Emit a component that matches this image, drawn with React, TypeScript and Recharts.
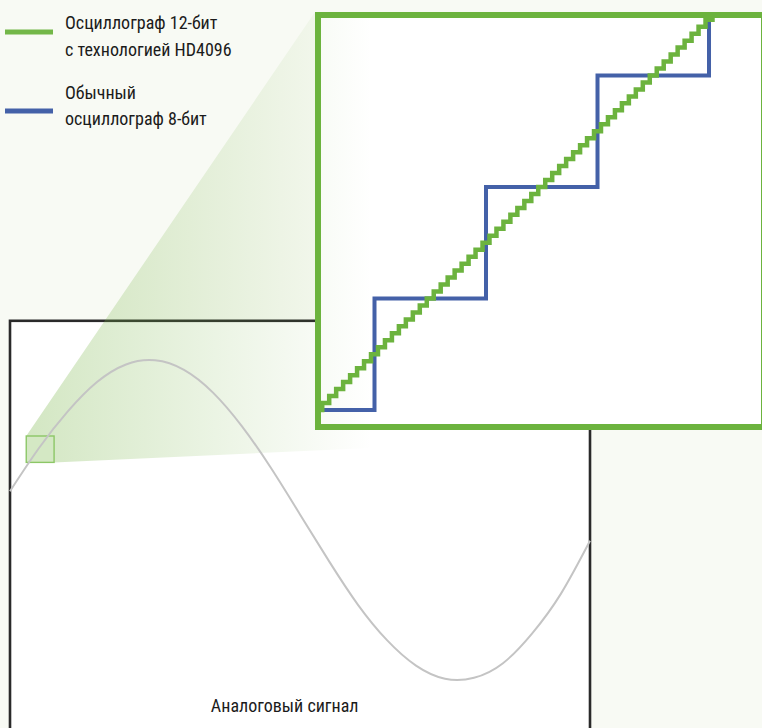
import React from 'react';
import { ComposedChart, Line, XAxis, YAxis, ReferenceArea, Legend } from 'recharts';

// ---------- Main chart: analog signal (time in ms, amplitude in V) ----------
const signalTimeMs = [0, 0.5, 1, 1.5, 2, 2.5, 3, 3.5, 4, 4.5, 5, 5.5, 6, 6.5, 7, 7.5, 8, 8.5, 9, 9.5, 10];
const signalVolts = [0.18, 0.45, 0.68, 0.862, 0.972, 0.998, 0.938, 0.796, 0.585, 0.325, 0.035, -0.257, -0.53, -0.751, -0.91, -0.992, -0.986, -0.895, -0.71, -0.46, -0.13];

// zoomed window shown in the inset
const zoomTimeMs = [0.28, 0.76];
const zoomVolts = [0.36, 0.525];

// ---------- Inset: quantization (sample index, 12-bit code) ----------
const greenSample = [0, 1, 2, 3, 4, 5, 6, 7, 8, 9, 10, 11, 12, 13, 14, 15, 16, 17, 18, 19, 20, 21, 22, 23, 24, 25, 26, 27, 28, 29, 30, 31, 32, 33, 34, 35, 36, 37, 38, 39, 40, 41, 42, 43, 44, 45, 46, 47, 48, 49, 50, 51, 52, 53, 54, 55, 56, 57];
const greenCode = [0, 1, 2, 3, 4, 5, 6, 7, 8, 9, 10, 11, 12, 13, 14, 15, 16, 17, 18, 19, 20, 21, 22, 23, 24, 25, 26, 27, 28, 29, 30, 31, 32, 33, 34, 35, 36, 37, 38, 39, 40, 41, 42, 43, 44, 45, 46, 47, 48, 49, 50, 51, 52, 53, 54, 55, 56, 57];
const blueSample = [0, 8.5, 24.5, 40.5, 56.5];
const blueCode = [0, 16, 32, 48, 64];

const seriesNames = {
  hd: 'Осциллограф 12-бит\nс технологией HD4096',
  std: 'Обычный\nосциллограф 8-бит',
};
const axisLabel = 'Аналоговый сигнал';

const GREEN = '#6cb33e';
const BLUE = '#4461a8';
const FONT = "'Liberation Sans Narrow','Roboto Condensed','DejaVu Sans Condensed',sans-serif";
const FONT_SIZE = 18;

const signalData = signalTimeMs.map((t, i) => ({ t, v: signalVolts[i] }));
const greenData = greenSample.map((s, i) => ({ sample: s, code12: greenCode[i] }));
const blueData = blueSample.map((s, i) => ({ sample: s, code8: blueCode[i] }));

// layout constants (pixels, page coordinates)
const INSET = { left: 315, top: 12, right: 767, bottom: 430 };
const LABEL_POS = { x: 284.7, y: 711.7 };

const BoxShape = (props: any) => {
  const { x, y, width, height } = props;
  return (
    <g>
      <rect x={x} y={y} width={width} height={height} fill="#ffffff" stroke="#2a2a2a" strokeWidth={2.6} />
      <text x={LABEL_POS.x} y={LABEL_POS.y} textAnchor="middle" fontFamily={FONT} fontSize={FONT_SIZE} fill="#1b1b1b">
        {axisLabel}
      </text>
    </g>
  );
};

const ZoomCone = (props: any) => {
  const { x, y, width, height } = props;
  const pts = [
    [x, y],
    [INSET.left, INSET.top],
    [INSET.right, INSET.bottom],
    [x + width, y + height],
    [x + width, y],
  ];
  return (
    <g>
      <polygon points={pts.map((p) => p.join(',')).join(' ')} fill="url(#coneGrad)" stroke="none" />
      <rect x={x} y={y} width={width} height={height} fill="rgba(120,182,70,0.32)" stroke="#8cc766" strokeWidth={1.4} />
    </g>
  );
};

const LegendContent = (props: any) => {
  const payload: any[] = props.payload ?? [];
  const g = payload.find((p) => p.dataKey === 'code12');
  const b = payload.find((p) => p.dataKey === 'code8');
  const gName: string = (g && g.value) || seriesNames.hd;
  const bName: string = (b && b.value) || seriesNames.std;
  const gColor = (g && g.color) || GREEN;
  const bColor = (b && b.color) || BLUE;
  const g1 = gName.split('\n');
  const b1 = bName.split('\n');
  return (
    <svg width={320} height={140} style={{ display: 'block' }}>
      <rect x={5} y={29.5} width={48} height={5} fill={gColor} opacity={0.95} />
      <rect x={5} y={108.5} width={48} height={5} fill={bColor} />
      <g fontFamily={FONT} fontSize={FONT_SIZE} fill="#1b1b1b">
        <text x={65} y={28.7}>{g1[0]}</text>
        <text x={65} y={55.7}>{g1[1]}</text>
        <text x={65} y={98.7}>{b1[0]}</text>
        <text x={65} y={124.7}>{b1[1]}</text>
      </g>
    </svg>
  );
};

export default function App() {
  return (
    <div style={{ position: 'absolute', left: 0, top: 0, width: 762, height: 728, overflow: 'hidden', background: '#f8faf4' }}>
      <div style={{ position: 'absolute', left: 0, top: 0 }}>
        <ComposedChart width={762} height={728} margin={{ top: 0, right: 0, bottom: 0, left: 0 }}>
          <defs>
            <linearGradient id="coneGrad" gradientUnits="userSpaceOnUse" x1={26} y1={0} x2={372} y2={0}>
              <stop offset="0%" stopColor="#79b548" stopOpacity={0.33} />
              <stop offset="100%" stopColor="#79b548" stopOpacity={0} />
            </linearGradient>
          </defs>
          <XAxis type="number" dataKey="t" domain={[-0.17241, 12.96552]} hide allowDataOverflow />
          <YAxis type="number" dataKey="v" domain={[-1.3, 3.25]} hide allowDataOverflow />
          <ReferenceArea
            x1={signalTimeMs[0]}
            x2={signalTimeMs[signalTimeMs.length - 1]}
            y1={-2}
            y2={1.245}
            ifOverflow="visible"
            shape={(p: any) => <BoxShape {...p} />}
          />
          <Line
            data={signalData}
            dataKey="v"
            type="natural"
            stroke="#c4c4c4"
            strokeWidth={2}
            dot={false}
            activeDot={false}
            isAnimationActive={false}
            legendType="none"
          />
          <ReferenceArea
            x1={zoomTimeMs[0]}
            x2={zoomTimeMs[1]}
            y1={zoomVolts[0]}
            y2={zoomVolts[1]}
            ifOverflow="visible"
            shape={(p: any) => <ZoomCone {...p} />}
          />
        </ComposedChart>
      </div>

      <div
        style={{
          position: 'absolute',
          left: INSET.left,
          top: INSET.top,
          width: INSET.right - INSET.left,
          height: INSET.bottom - INSET.top,
          border: `6px solid ${GREEN}`,
          boxSizing: 'border-box',
          background: '#ffffff',
        }}
      >
        <ComposedChart width={440} height={406} margin={{ top: 0, right: 0, bottom: 0, left: 0 }}>
          <defs>
            <linearGradient id="insetTint" gradientUnits="userSpaceOnUse" x1={-295} y1={0} x2={51} y2={0}>
              <stop offset="0%" stopColor="#79b548" stopOpacity={0.33} />
              <stop offset="100%" stopColor="#79b548" stopOpacity={0} />
            </linearGradient>
          </defs>
          <XAxis type="number" dataKey="sample" domain={[0.823, 63.96]} hide allowDataOverflow />
          <YAxis type="number" domain={[-2.01, 56.25]} hide allowDataOverflow />
          <ReferenceArea x1={0.823} x2={63.96} y1={-2.01} y2={56.25} fill="url(#insetTint)" fillOpacity={1} stroke="none" />
          <Line
            data={blueData}
            dataKey="code8"
            name={seriesNames.std}
            type="stepAfter"
            stroke={BLUE}
            strokeWidth={4}
            dot={false}
            activeDot={false}
            isAnimationActive={false}
          />
          <Line
            data={greenData}
            dataKey="code12"
            name={seriesNames.hd}
            type="stepAfter"
            stroke={GREEN}
            strokeWidth={4.5}
            dot={false}
            activeDot={false}
            isAnimationActive={false}
          />
          <Legend
            layout="vertical"
            align="center"
            verticalAlign="middle"
            content={(p: any) => <LegendContent {...p} />}
            wrapperStyle={{ left: -321, top: -18, width: 320, height: 140 }}
          />
        </ComposedChart>
      </div>
    </div>
  );
}
